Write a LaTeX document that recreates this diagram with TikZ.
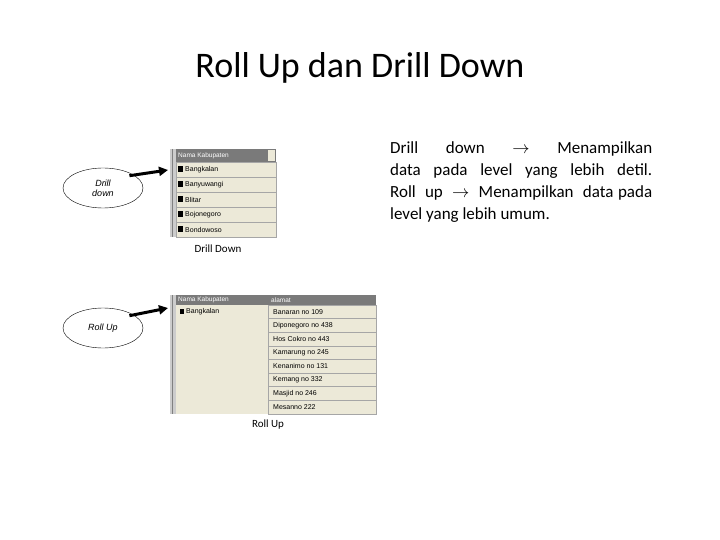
\documentclass[tikz,border=0pt]{standalone}
\usepackage{fontspec}
\setmainfont{Carlito}
\newfontfamily\arial{Liberation Sans}
\usetikzlibrary{shapes.geometric,arrows.meta}
\definecolor{tbg}{HTML}{ECE9D8}
\definecolor{thd}{HTML}{7A7A7A}
\tikzset{
  ell/.style={draw,ellipse,minimum width=80pt,minimum height=40pt,inner sep=0pt,font=\arial\itshape\fontsize{9}{10}\selectfont,align=center},
  bigarrow/.style={-{Triangle[length=9pt,width=9pt]},line width=3pt},
  cell/.style={draw=gray!70,fill=tbg,line width=0.5pt},
  celltxt/.style={anchor=west,font=\arial\fontsize{7}{8}\selectfont,inner sep=1pt},
  hdtxt/.style={anchor=west,font=\arial\fontsize{6.5}{7}\selectfont,text=white,inner sep=1pt},
  captxt/.style={font=\fontsize{11}{12}\selectfont}
}
\begin{document}
\begin{tikzpicture}[x=1pt,y=-1pt]
\useasboundingbox (0,0) rectangle (720,540);
\node (title) at (360,68) {\fontsize{36}{40}\selectfont Roll Up dan Drill Down};
\node[anchor=north west,text width=262pt,align=justify,inner sep=0pt,font=\fontsize{17}{22}\selectfont] (desc) at (390,141)
 {Drill down $\rightarrow$ Menampilkan data pada level yang lebih detil. Roll~ up~ $\rightarrow$~ Menampilkan~ data pada level yang lebih umum.};
% table 1
\fill[gray!40] (170,149) rectangle (176,237);
\draw[gray] (172,149) -- (172,237);
\fill[thd] (176,149) rectangle (276,162);
\node[hdtxt] (h1) at (177,155.5) {Nama Kabupaten};
\fill[tbg] (268,150) rectangle (275,161);
\foreach \t [count=\i] in {Bangkalan,Banyuwangi,Blitar,Bojonegoro,Bondowoso}{
  \draw[cell] (176,{162+(\i-1)*15}) rectangle (276,{162+\i*15});
  \fill[black] (178,{166+(\i-1)*15}) rectangle (183,{172+(\i-1)*15});
  \node[celltxt] at (184,{169.5+(\i-1)*15}) {\t};
}
\coordinate (t1) at (168,170);
\node[captxt] (c1) at (218,249) {Drill Down};
\node[ell] (e1) at (103,188) {Drill\\down};
\draw[bigarrow] (e1.north east) ++(-2,2) -- (t1);
% table 2
\fill[gray!40] (170,295) rectangle (176,414);
\draw[gray] (172,295) -- (172,414);
\fill[thd] (176,295) rectangle (376,305);
\node[hdtxt] at (177,300) {Nama Kabupaten};
\node[hdtxt] at (270,300) {alamat};
\fill[tbg] (176,305) rectangle (268,414);
\draw[gray!70] (268,305) -- (268,414);
\fill[black] (180,309) rectangle (184,314);
\node[celltxt] at (185,312) {Bangkalan};
\foreach \t [count=\i] in {Banaran no 109,Diponegoro no 438,Hos Cokro no 443,Kamarung no 245,Kenanimo no 131,Kemang no 332,Masjid no 246,Mesanno 222}{
  \draw[cell] (268,{305+(\i-1)*13.6}) rectangle (376,{305+\i*13.6});
  \node[celltxt] at (272,{312+(\i-1)*13.6}) {\t};
}
\coordinate (t2) at (168,308);
\node[captxt] (c2) at (268,425) {Roll Up};
\node[ell] (e2) at (103,328) {Roll Up};
\draw[bigarrow] (e2.north east) ++(-2,2) -- (t2);
\end{tikzpicture}
\end{document}
